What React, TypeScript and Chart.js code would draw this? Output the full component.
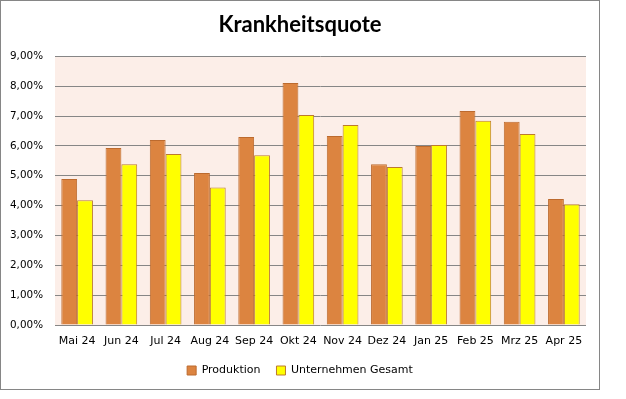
import React, { useEffect, useRef } from "react";
import { Chart, registerables } from "chart.js";

Chart.register(...registerables);

const categories = ["Mai 24", "Jun 24", "Jul 24", "Aug 24", "Sep 24", "Okt 24", "Nov 24", "Dez 24", "Jan 25", "Feb 25", "Mrz 25", "Apr 25"];
const produktion = [4.89, 5.93, 6.2, 5.09, 6.3, 8.11, 6.33, 5.39, 6.0, 7.17, 6.81, 4.22];
const unternehmenGesamt = [4.18, 5.39, 5.73, 4.61, 5.69, 7.04, 6.7, 5.29, 6.03, 6.84, 6.4, 4.05];
const titleText = "Krankheitsquote";
const seriesNames = ["Produktion", "Unternehmen Gesamt"];

const chartDecor = {
  id: "chartDecor",
  beforeDraw(chart: any) {
    const { ctx, chartArea } = chart;
    ctx.save();
    ctx.fillStyle = "#FFFFFF";
    ctx.fillRect(0, 0, chart.width, chart.height);
    ctx.fillStyle = "#FCEEE8";
    ctx.fillRect(chartArea.left, chartArea.top, chartArea.right - chartArea.left, chartArea.bottom - chartArea.top);
    ctx.restore();
  },
  afterDraw(chart: any) {
    const { ctx } = chart;
    ctx.save();
    ctx.strokeStyle = "#868686";
    ctx.lineWidth = 1;
    ctx.strokeRect(0.5, 0.5, 599, 389);
    ctx.restore();
  },
};

export default function App() {
  const ref = useRef<HTMLCanvasElement | null>(null);
  useEffect(() => {
    if (!ref.current) return;
    const chart = new Chart(ref.current, {
      type: "bar",
      data: {
        labels: categories,
        datasets: [
          {
            label: seriesNames[0],
            data: produktion,
            backgroundColor: "#DC8440",
            borderColor: "#BC6A2E",
            borderWidth: 1,
            categoryPercentage: 0.715,
            barPercentage: 1,
          },
          {
            label: seriesNames[1],
            data: unternehmenGesamt,
            backgroundColor: "#FFFF00",
            borderColor: "#BC7A2E",
            borderWidth: 1,
            categoryPercentage: 0.715,
            barPercentage: 1,
          },
        ],
      },
      options: {
        responsive: false,
        animation: false,
        layout: { padding: { left: 0, right: 26, top: 0, bottom: 13 } },
        plugins: {
          title: {
            display: true,
            text: titleText,
            color: "#000000",
            font: { family: "Lato", size: 22, weight: "bold" },
            padding: { top: 12, bottom: 18 },
          },
          legend: {
            position: "bottom",
            labels: {
              boxWidth: 9,
              boxHeight: 9,
              padding: 16,
              color: "#000000",
              font: { family: "DejaVu Sans", size: 11 },
            },
          },
          tooltip: { enabled: false },
        },
        scales: {
          x: {
            grid: { display: false, drawTicks: false },
            border: { display: false },
            ticks: {
              color: "#000000",
              padding: 10,
              minRotation: 0,
              maxRotation: 0,
              autoSkip: false,
              font: { family: "DejaVu Sans", size: 11 },
            },
            afterFit(scale: any) {
              scale.height = 24;
            },
          },
          y: {
            min: 0,
            max: 9,
            grid: { color: "#868686", lineWidth: 1, drawTicks: false },
            border: { display: false },
            ticks: {
              stepSize: 1,
              padding: 12,
              color: "#000000",
              font: { family: "DejaVu Sans", size: 10.4 },
              callback: (v: any) => Number(v).toFixed(2).replace(".", ",") + "%",
            },
            afterFit(scale: any) {
              scale.width = 55;
            },
          },
          yRight: {
            position: "right",
            min: 0,
            max: 9,
            grid: { display: false, drawTicks: false },
            border: { display: false },
            ticks: { display: false },
            afterFit(scale: any) {
              scale.width = 14;
            },
          },
        },
      },
      plugins: [chartDecor],
    });
    return () => chart.destroy();
  }, []);
  return (
    <div style={{ position: "fixed", left: 0, top: 0, width: 626, height: 399, background: "#fff" }}>
      <canvas ref={ref} width={626} height={399} style={{ display: "block" }} />
    </div>
  );
}
